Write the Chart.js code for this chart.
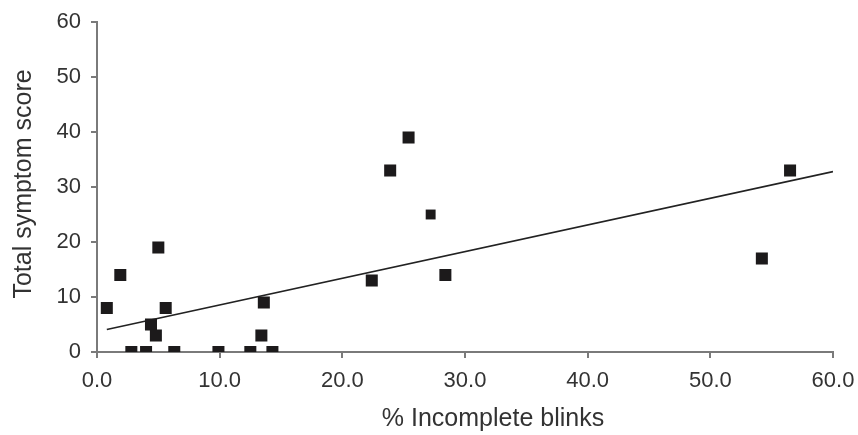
<!DOCTYPE html>
<html>
<head>
<meta charset="utf-8">
<script src="https://cdn.jsdelivr.net/npm/chart.js@4/dist/chart.umd.min.js"></script>
<style>
  html, body { margin: 0; padding: 0; background: #ffffff; }
  #wrap { width: 858px; height: 435px; position: relative; }
</style>
</head>
<body>
<div id="wrap"><canvas id="c" width="858" height="435"></canvas></div>
<script>
// Data
const blinkPct = [0.8, 1.9, 2.8, 4.0, 4.4, 4.8, 5.0, 5.6, 6.3, 9.9, 12.5, 13.4, 13.6, 14.3, 22.4, 23.9, 25.4, 27.2, 28.4, 54.2, 56.5];
const symptomScore = [8, 14, 0, 0, 5, 3, 19, 8, 0, 0, 0, 3, 9, 0, 13, 33, 39, 25, 14, 17, 33];
const trendX = [0.8, 60];
const trendY = [4.1, 32.8];
const xTicks = [0, 10, 20, 30, 40, 50, 60];
const yTicks = [0, 10, 20, 30, 40, 50, 60];
const xTitle = '% Incomplete blinks';
const yTitle = 'Total symptom score';

const smallMarkerIndex = 17;

const points = blinkPct.map((x, i) => ({ x: x, y: symptomScore[i] }));
const trend = trendX.map((x, i) => ({ x: x, y: trendY[i] }));

const axisColor = '#7a7a7a';
const textColor = '#333333';
const fontFamily = '"Liberation Sans", Arial, Helvetica, sans-serif';

// Axis titles drawn relative to the chart area (reference places the x title right of centre)
const axisTitlePlugin = {
  id: 'axisTitles',
  afterDraw(chart) {
    const { ctx, chartArea } = chart;
    ctx.save();
    ctx.fillStyle = textColor;
    ctx.font = '25px ' + fontFamily;
    ctx.textAlign = 'center';
    ctx.textBaseline = 'middle';
    const cx = (chartArea.left + chartArea.right) / 2 + 28;
    ctx.fillText(xTitle, cx, chartArea.bottom + 67);
    const cy = (chartArea.top + chartArea.bottom) / 2 - 3;
    ctx.translate(chartArea.left - 73, cy);
    ctx.rotate(-Math.PI / 2);
    ctx.fillText(yTitle, 0, 0);
    ctx.restore();
  }
};

new Chart(document.getElementById('c'), {
  type: 'scatter',
  data: {
    datasets: [
      {
        data: points,
        pointStyle: 'rect',
        pointRadius: ctx => ctx.dataIndex === smallMarkerIndex ? 7 : 8.5,
        backgroundColor: '#1c1a1b',
        borderColor: '#1c1a1b',
        borderWidth: 0,
        showLine: false
      },
      {
        data: trend,
        showLine: true,
        pointRadius: 0,
        borderColor: '#222222',
        borderWidth: 1.6,
        fill: false
      }
    ]
  },
  plugins: [axisTitlePlugin],
  options: {
    responsive: false,
    animation: false,
    devicePixelRatio: 1,
    plugins: { legend: { display: false }, tooltip: { enabled: false } },
    layout: { padding: { left: 0, top: 22, right: 25, bottom: 0 } },
    scales: {
      x: {
        type: 'linear',
        min: 0, max: 60,
        afterBuildTicks: s => { s.ticks = xTicks.map(v => ({ value: v })); },
        afterFit: s => { s.height = 83; s.paddingLeft = 0; s.paddingRight = 0; },
        border: { display: true, color: axisColor, width: 2 },
        grid: { display: true, drawOnChartArea: false, drawTicks: true, tickLength: 6, color: axisColor, lineWidth: 2 },
        ticks: {
          color: textColor,
          font: { family: fontFamily, size: 22 },
          padding: 10,
          maxRotation: 0,
          callback: v => Number(v).toFixed(1)
        },
        title: { display: false }
      },
      y: {
        type: 'linear',
        min: 0, max: 60,
        afterBuildTicks: s => { s.ticks = yTicks.map(v => ({ value: v })); },
        afterFit: s => { s.width = 97; s.paddingTop = 0; s.paddingBottom = 0; },
        border: { display: true, color: axisColor, width: 2 },
        grid: { display: true, drawOnChartArea: false, drawTicks: true, tickLength: 6, color: axisColor, lineWidth: 2 },
        ticks: {
          color: textColor,
          font: { family: fontFamily, size: 22 },
          padding: 10,
          callback: v => String(v)
        },
        title: { display: false }
      }
    }
  }
});
</script>
</body>
</html>
